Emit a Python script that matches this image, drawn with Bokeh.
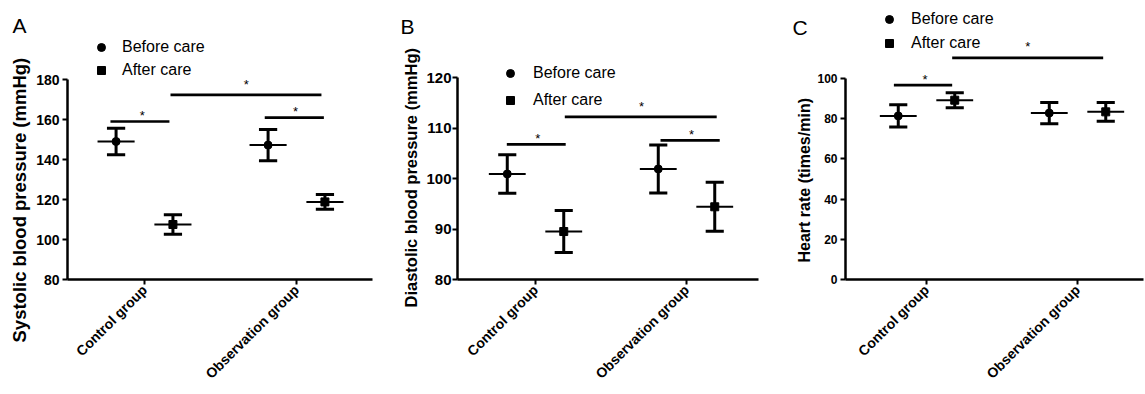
from bokeh.plotting import figure
from bokeh.layouts import row
from bokeh.models import (Range1d, FixedTicker, Legend, LegendItem, ColumnDataSource, Title,
                          Label, GridBox)
from bokeh.core.properties import value
from bokeh.embed import file_html
from bokeh.resources import INLINE

# ---------------- data ----------------
groups = ["Control group", "Observation group"]
series = ["Before care", "After care"]
panel_letters = ["A", "B", "C"]

sbp_before_mean = [149.0, 147.2]
sbp_before_sd = [6.6, 7.8]
sbp_after_mean = [107.5, 118.8]
sbp_after_sd = [4.9, 3.7]

dbp_before_mean = [100.9, 101.9]
dbp_before_sd = [3.8, 4.75]
dbp_after_mean = [89.5, 94.4]
dbp_after_sd = [4.15, 4.85]

hr_before_mean = [81.4, 82.8]
hr_before_sd = [5.5, 5.3]
hr_after_mean = [89.2, 83.4]
hr_after_sd = [3.7, 4.7]

sbp_ticks = [80, 100, 120, 140, 160, 180]
dbp_ticks = [80, 90, 100, 110, 120]
hr_ticks = [0, 20, 40, 60, 80, 100]

# significance brackets: (x0, x1, y_bar, x_star, y_star)
sbp_sig = [(-0.224, 0.164, 159.0, -0.015, 163.6),
           (0.171, 1.164, 172.3, 0.669, 179.0),
           (0.791, 1.180, 160.9, 0.993, 165.4)]
dbp_sig = [(-0.19, 0.20, 106.75, 0.015, 108.6),
           (0.194, 1.20, 112.2, 0.702, 114.8),
           (0.828, 1.22, 107.55, 1.033, 109.3)]
hr_sig = [(-0.216, 0.17, 96.7, -0.01, 101.2),
          (0.17, 1.17, 110.3, 0.67, 117.4)]

FONT = "Liberation Sans"
INK = "black"
OFF = 0.187
MEAN_HALF = 0.122
CAP_HALF = 0.06


def panel(cfg, before_m, before_sd, after_m, after_sd, sig, ticks):
    p = figure(width=cfg["width"], height=394,
               x_range=Range1d(*cfg["xr"]), y_range=Range1d(*cfg["yr"]),
               output_backend="svg", toolbar_location=None,
               min_border_left=cfg["bl"], min_border_right=cfg["br"],
               min_border_top=0, min_border_bottom=115)
    p.outline_line_color = None
    p.grid.visible = False
    p.background_fill_color = "white"
    p.border_fill_color = "white"

    renderers = []
    for means, sds, off, mk in [(before_m, before_sd, -OFF, "circle"),
                                (after_m, after_sd, OFF, "square")]:
        xs = [i + off for i in range(len(groups))]
        src = ColumnDataSource(dict(
            x=xs, m=means,
            lo=[m - s for m, s in zip(means, sds)],
            hi=[m + s for m, s in zip(means, sds)],
            xl=[x - MEAN_HALF for x in xs], xr=[x + MEAN_HALF for x in xs],
            cl=[x - CAP_HALF for x in xs], cr=[x + CAP_HALF for x in xs],
        ))
        p.segment(x0="xl", y0="m", x1="xr", y1="m", source=src, line_color=INK, line_width=2)
        p.segment(x0="x", y0="lo", x1="x", y1="hi", source=src, line_color=INK, line_width=3)
        p.segment(x0="cl", y0="lo", x1="cr", y1="lo", source=src, line_color=INK, line_width=3)
        p.segment(x0="cl", y0="hi", x1="cr", y1="hi", source=src, line_color=INK, line_width=3)
        r = p.scatter(x="x", y="m", source=src, marker=mk, size=8,
                      fill_color=INK, line_color=INK)
        renderers.append(r)

    ssrc = ColumnDataSource(dict(
        x0=[s[0] for s in sig], x1=[s[1] for s in sig], y=[s[2] for s in sig],
        xs=[s[3] for s in sig], ys=[s[4] for s in sig], t=["*"] * len(sig)))
    p.segment(x0="x0", y0="y", x1="x1", y1="y", source=ssrc, line_color=INK, line_width=2.7)
    p.text(x="xs", y="ys", text="t", source=ssrc, text_font=value(FONT),
           text_font_size="13px", text_align="center", text_baseline="middle",
           y_offset=3, text_color=INK)

    legend = Legend(items=[LegendItem(label=series[0], renderers=[renderers[0]]),
                           LegendItem(label=series[1], renderers=[renderers[1]])],
                    location=cfg["leg_loc"], padding=0, margin=0, spacing=cfg["leg_sp"],
                    glyph_width=20, glyph_height=20, label_height=20,
                    label_standoff=cfg["leg_so"],
                    label_text_font=FONT, label_text_font_size="16px",
                    label_text_color=INK, border_line_color=None,
                    background_fill_alpha=0)
    p.add_layout(legend)

    ax = p.yaxis[0]
    ax.ticker = FixedTicker(ticks=ticks, minor_ticks=[])
    ax.bounds = cfg["bounds"]
    ax.major_label_text_font = FONT
    ax.major_label_text_font_style = "bold"
    ax.major_label_text_font_size = cfg["tick_size"]
    ax.major_label_text_color = INK
    ax.major_label_standoff = cfg["tick_so"]
    ax.axis_line_width = 2.5
    ax.axis_line_color = INK
    ax.major_tick_line_width = 2
    ax.major_tick_line_color = INK
    ax.major_tick_out = 5
    ax.major_tick_in = 0
    ax.minor_tick_line_color = None

    # y axis title in the left panel, shifted along the axis
    p.add_layout(Title(text=cfg["ytitle"], align="left", offset=cfg["title_off"],
                       text_font=FONT, text_font_style="bold",
                       text_font_size=cfg["title_size"], text_color=INK,
                       standoff=cfg["title_so"]), "left")

    bx = p.xaxis[0]
    bx.ticker = FixedTicker(ticks=list(range(len(groups))), minor_ticks=[])
    bx.major_label_overrides = {i: g for i, g in enumerate(groups)}
    bx.major_label_orientation = 0.785398
    bx.major_label_text_font = FONT
    bx.major_label_text_font_style = "bold"
    bx.major_label_text_font_size = "14px"
    bx.major_label_text_color = INK
    bx.major_label_standoff = 3
    bx.axis_line_width = 2.5
    bx.axis_line_color = INK
    bx.major_tick_line_width = 2
    bx.major_tick_line_color = INK
    bx.major_tick_out = 5
    bx.major_tick_in = 0
    bx.minor_tick_line_color = None
    return p


cfgA = dict(width=380, bl=67, br=8, xr=(-0.5066, 1.4999), yr=(80, 219.5),
            bounds=(80, 180), ytitle="Systolic blood pressure (mmHg)",
            title_size="18.5px", title_off=-63, title_so=7, tick_size="14px", tick_so=3,
            leg_loc=(24, 199), leg_sp=3, leg_so=11)
cfgB = dict(width=380, bl=77, br=2, xr=(-0.5166, 1.4768), yr=(80, 135.25),
            bounds=(80, 120), ytitle="Diastolic blood pressure (mmHg)",
            title_size="16.5px", title_off=-28, title_so=7, tick_size="15px", tick_so=1,
            leg_loc=(43, 169), leg_sp=7, leg_so=13)
cfgC = dict(width=385, bl=85, br=2, xr=(-0.5364, 1.437), yr=(0, 138.8),
            bounds=(0, 100), ytitle="Heart rate (times/min)",
            title_size="16px", title_off=17, title_so=4, tick_size="12px", tick_so=3,
            leg_loc=(34, 226), leg_sp=4, leg_so=12)

pA = panel(cfgA, sbp_before_mean, sbp_before_sd, sbp_after_mean, sbp_after_sd, sbp_sig, sbp_ticks)
pB = panel(cfgB, dbp_before_mean, dbp_before_sd, dbp_after_mean, dbp_after_sd, dbp_sig, dbp_ticks)
pC = panel(cfgC, hr_before_mean, hr_before_sd, hr_after_mean, hr_after_sd, hr_sig, hr_ticks)

# transparent overlay in page pixel coordinates, carrying the panel letters
ov = figure(width=1145, height=394, x_range=Range1d(0, 1145), y_range=Range1d(394, 0),
            x_axis_location=None, y_axis_location=None, toolbar_location=None,
            output_backend="svg", min_border=0)
ov.outline_line_color = None
ov.grid.visible = False
ov.background_fill_alpha = 0
ov.border_fill_alpha = 0
letter_pos = [(12, 25), (400, 26), (792, 27)]
for t, (lx, ly) in zip(panel_letters, letter_pos):
    ov.add_layout(Label(x=lx, y=ly, text=t, text_font=FONT, text_font_size="21px",
                        text_color=INK, text_baseline="alphabetic", text_align="left"))

panels = row(pA, pB, pC)
layout = GridBox(children=[(panels, 0, 0), (ov, 0, 0)])
open("out.html", "w").write(file_html(layout, INLINE))
